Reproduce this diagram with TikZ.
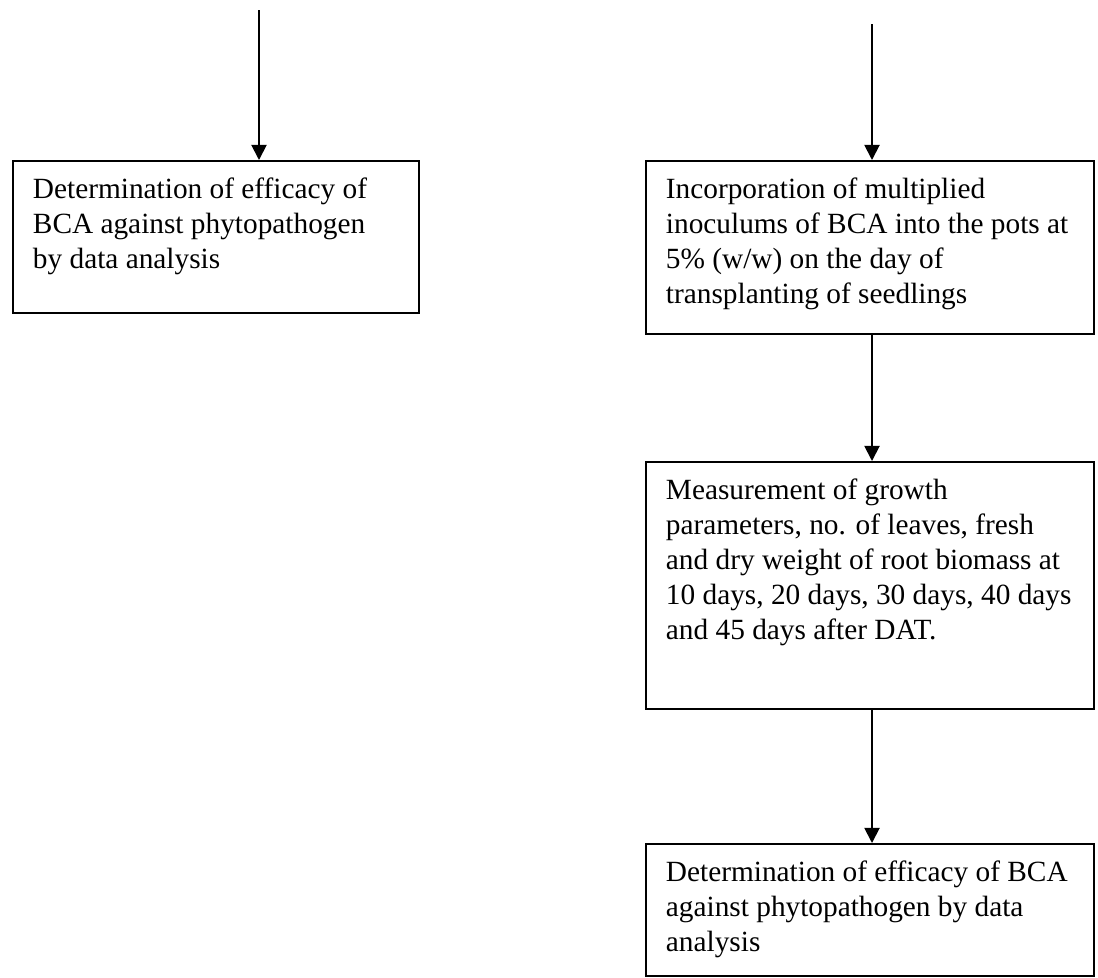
\documentclass[tikz,border=0pt]{standalone}
\usepackage{fontspec}
\setmainfont{Liberation Serif}
\usepackage{tikz}
\usetikzlibrary{arrows.meta,positioning,calc}

\newdimen\pxu
\pxu=0.5286pt
\newcommand{\boxbody}[3]{\parbox[c][#2][t]{#1}{\raggedright\rule{0pt}{20pt}#3}}

\tikzset{
  flowbox/.style={draw,line width=1pt,anchor=north west,inner xsep=20\pxu,inner ysep=0pt,
                  font=\fontsize{15.5}{18.5}\selectfont},
  flowarrow/.style={-{Triangle[length=8pt,width=8pt]},line width=1pt}
}

\begin{document}
\begin{tikzpicture}[x=\pxu,y=-\pxu]
        \useasboundingbox (0,0) rectangle (1098,977);
        % left column
        \coordinate (topL) at (259,10);
        \node[flowbox] (detL) at (12,160)
          {\boxbody{366\pxu}{152\pxu}{Determination of efficacy of\\ BCA against phytopathogen\\ by data analysis}};
        % right column
        \coordinate (topR) at (872,24);
        \node[flowbox] (incorp) at (645,160)
          {\boxbody{408\pxu}{173\pxu}{Incorporation of multiplied\\ inoculums of BCA into the pots at\\ 5\% (w/w) on the day of\\ transplanting of seedlings}};
        \node[flowbox] (measure) at (645,461)
          {\boxbody{408\pxu}{247\pxu}{Measurement of growth\\ parameters, no. of leaves, fresh\\ and dry weight of root biomass at\\ 10 days, 20 days, 30 days, 40 days\\ and 45 days after DAT.}};
        \node[flowbox] (detR) at (645,843)
          {\boxbody{408\pxu}{132\pxu}{Determination of efficacy of BCA\\ against phytopathogen by data\\ analysis}};
        \draw[flowarrow] (topL) -- (topL |- detL.north);
        \draw[flowarrow] (topR) -- (topR |- incorp.north);
        \draw[flowarrow] (incorp.south -| topR) -- (measure.north -| topR);
        \draw[flowarrow] (measure.south -| topR) -- (detR.north -| topR);
      \end{tikzpicture}
\end{document}
